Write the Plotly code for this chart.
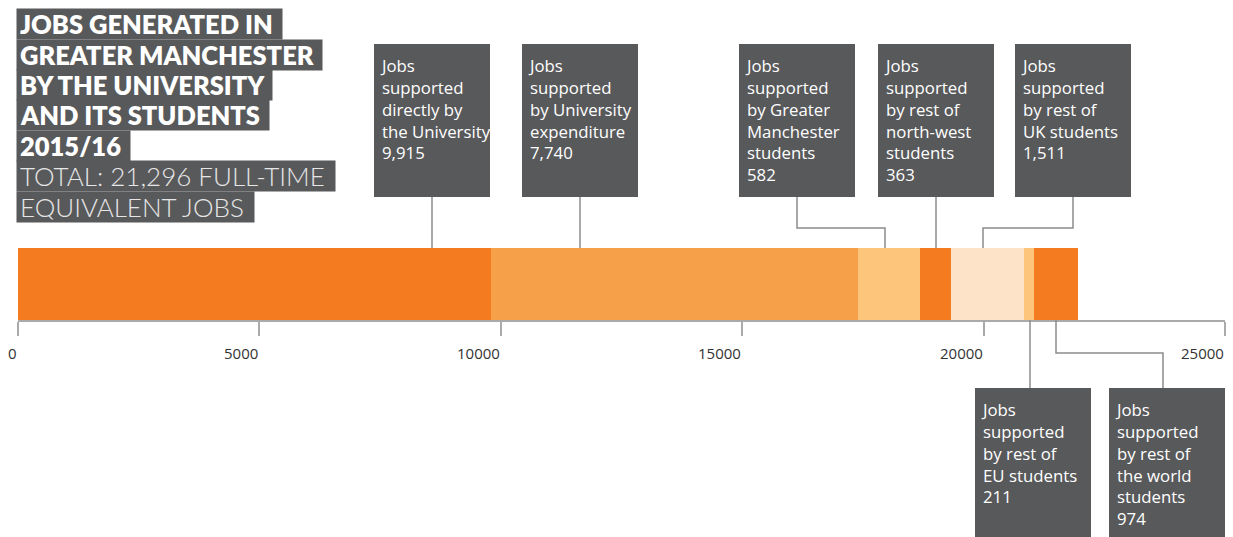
import plotly.graph_objects as go

# ---------------- data ----------------
segment_names = [
    "Directly by the University",
    "University expenditure",
    "Greater Manchester students",
    "Rest of north-west students",
    "Rest of UK students",
    "Rest of EU students",
    "Rest of the world students",
]
segment_widths = [9790, 7610, 1285, 640, 1510, 210, 910]   # bar lengths as drawn
segment_colors = ["#f47b20", "#f7a04a", "#fdc47c", "#f47b20", "#fde3c8", "#fdc47c", "#f47b20"]

label_texts = [
    "Jobs<br>supported<br>directly by<br>the University",
    "Jobs<br>supported<br>by University<br>expenditure",
    "Jobs<br>supported<br>by Greater<br>Manchester<br>students",
    "Jobs<br>supported<br>by rest of<br>north-west<br>students",
    "Jobs<br>supported<br>by rest of<br>UK students",
    "Jobs<br>supported<br>by rest of<br>EU students",
    "Jobs<br>supported<br>by rest of<br>the world<br>students",
]
label_values = [9915, 7740, 582, 363, 1511, 211, 974]

tick_values = [0, 5000, 10000, 15000, 20000, 25000]

title_lines = ["JOBS GENERATED IN", "GREATER MANCHESTER", "BY THE UNIVERSITY",
               "AND ITS STUDENTS", "2015/16"]
subtitle_lines = ["TOTAL: 21,296 FULL-TIME", "EQUIVALENT JOBS"]

# ---------------- geometry (pixels) ----------------
W, H = 1233, 537
PL, PR, PT, PB = 18, 1225, 248, 320          # plot area edges
BOX_W, BOX_H = 116, 153
GRAY = "#58595b"
LINE = "#8c8c8c"

def px_x(px):
    return (px - PL) / (PR - PL)

def px_y(py):
    return (PB - py) / (PB - PT)

# callout layout: side, box left, stem x at box, anchor x on bar, elbow y
callouts = [
    ("top", 374, 432, 432, None),
    ("top", 522, 580, 580, None),
    ("top", 739, 797, 885, 228),
    ("top", 878, 936, 936, None),
    ("top", 1015, 1073, 983, 228),
    ("bottom", 975, 1030, 1030, None),
    ("bottom", 1109, 1163, 1056, 353),
]

fig = go.Figure()
base = 0
for name, w, c in zip(segment_names, segment_widths, segment_colors):
    fig.add_trace(go.Bar(
        y=[""], x=[w], base=[base], orientation="h", name=name,
        marker=dict(color=c, line=dict(width=0)), width=1,
        hovertemplate=name + ": %{x}<extra></extra>",
    ))
    base += w

shapes = []
annotations = []
for (side, left, stem, anchor, elbow), txt, val in zip(callouts, label_texts, label_values):
    if side == "top":
        top, bottom = 44, 44 + BOX_H
        y_box, y_bar = bottom, PT
    else:
        top, bottom = 388, 388 + BOX_H
        y_box, y_bar = top, PB
    shapes.append(dict(type="rect", xref="paper", yref="paper",
                       x0=px_x(left), x1=px_x(left + BOX_W),
                       y0=px_y(bottom), y1=px_y(top),
                       fillcolor=GRAY, line=dict(width=0), layer="above"))
    if elbow is None:
        path = f"M {px_x(stem)},{px_y(y_box)} L {px_x(stem)},{px_y(y_bar)}"
    else:
        path = (f"M {px_x(stem)},{px_y(y_box)} L {px_x(stem)},{px_y(elbow)} "
                f"L {px_x(anchor)},{px_y(elbow)} L {px_x(anchor)},{px_y(y_bar)}")
    shapes.append(dict(type="path", xref="paper", yref="paper", path=path,
                       line=dict(color=LINE, width=1.5), layer="above"))
    annotations.append(dict(
        xref="paper", yref="paper", x=px_x(left + 5), y=px_y(top + 9),
        xanchor="left", yanchor="top", align="left", showarrow=False,
        borderpad=0, text=f"{txt}<br>{val:,}",
        font=dict(family="Open Sans", size=16.8, color="white"),
    ))

line_h = 30.4
for i, t in enumerate(title_lines + subtitle_lines):
    bold = i < len(title_lines)
    cy = 9 + line_h * i + line_h / 2
    annotations.append(dict(
        xref="paper", yref="paper", x=px_x(16), y=px_y(cy),
        xanchor="left", yanchor="middle", showarrow=False,
        text=t + "\u00a0", bgcolor=GRAY, borderpad=3, height=line_h - 6,
        font=dict(family="Lato", size=25.5 if bold else 26,
                  color="white" if bold else "#e6e6e6",
                  weight=800 if bold else 300),
    ))

# tick labels, right-aligned to their ticks as in the original
for v in tick_values:
    annotations.append(dict(
        xref="x", yref="paper", x=v, y=px_y(353),
        xanchor="right", yanchor="middle", showarrow=False, borderpad=0,
        text=str(v), font=dict(family="Open Sans", size=15, color="#333333"),
    ))

fig.update_layout(
    width=W, height=H,
    margin=dict(l=PL, r=W - PR, t=PT, b=H - PB),
    paper_bgcolor="white", plot_bgcolor="white",
    barmode="stack", showlegend=False,
    xaxis=dict(range=[0, 25000], tickvals=tick_values, showticklabels=False,
               showgrid=False, zeroline=False, showline=True, linecolor="#aaaaaa", linewidth=1.5,
               ticks="outside", ticklen=14, tickwidth=1.5, tickcolor="#aaaaaa",
               fixedrange=True),
    yaxis=dict(visible=False, range=[-0.5, 0.5], fixedrange=True),
    shapes=shapes, annotations=annotations,
)

fig.write_html("out.html", config={"displayModeBar": False},
               post_script="document.body.style.margin='0';")
